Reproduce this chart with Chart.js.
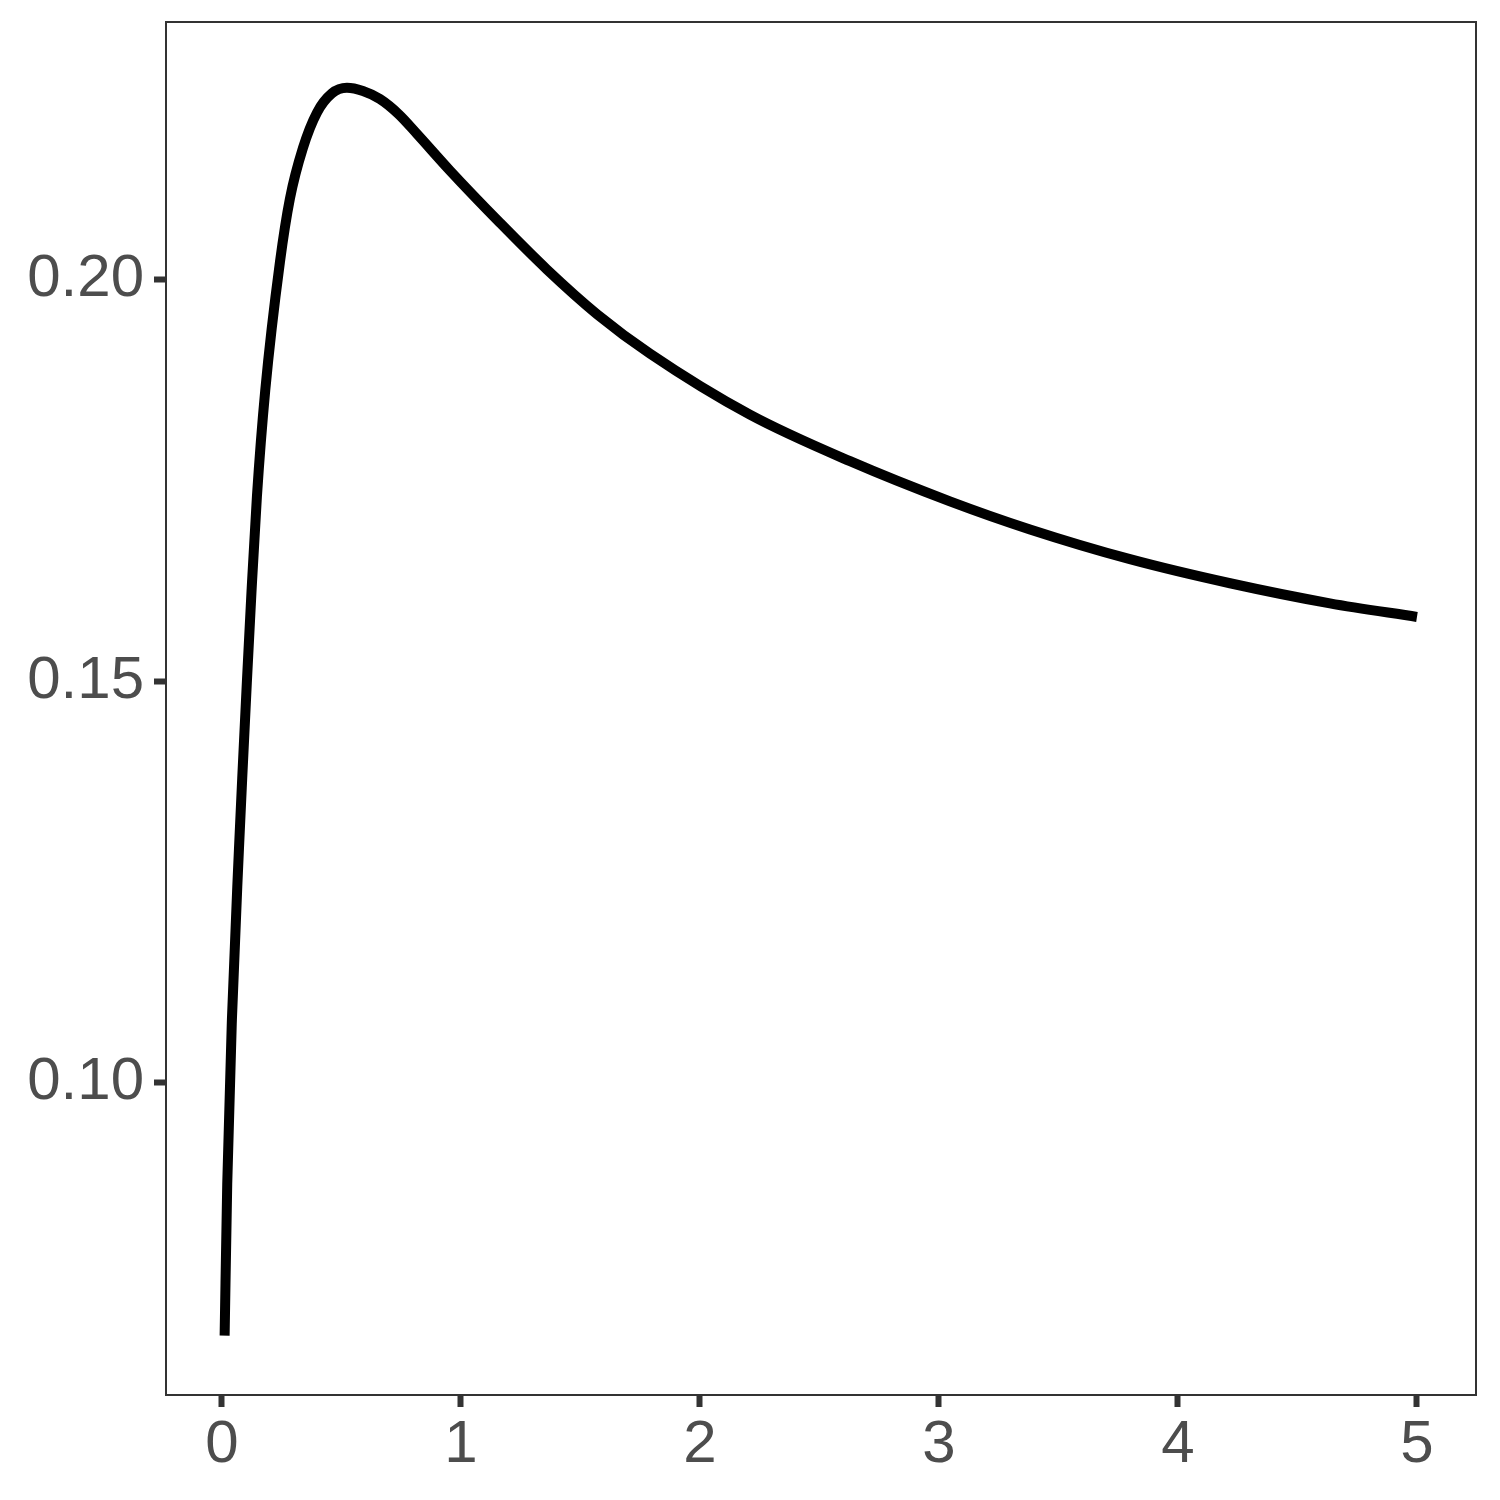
<!DOCTYPE html>
<html>
<head>
<meta charset="utf-8">
<script src="https://cdn.jsdelivr.net/npm/chart.js@4"></script>
<style>
  body { margin: 0; background: #fff; }
</style>
</head>
<body>
<canvas id="chart" width="1500" height="1500"></canvas>
<script>
// curve
const xValues = [0.0113, 0.0222, 0.0418, 0.0711, 0.0849, 0.1042, 0.1238, 0.1464, 0.1812, 0.2427, 0.2845,
  0.3389, 0.3975, 0.46, 0.523, 0.59, 0.661, 0.74, 0.815, 0.954, 1.163, 1.359, 1.57, 1.791, 2.209, 2.628,
  3.046, 3.381, 3.799, 4.218, 4.636, 5.0];
const yValues = [0.0685, 0.0874, 0.1079, 0.1290, 0.1379, 0.1498, 0.1612, 0.1730, 0.1862, 0.2022, 0.2101,
  0.2164, 0.2208, 0.2232, 0.2239, 0.2235, 0.2225, 0.2206, 0.2182, 0.2136, 0.2071, 0.2013, 0.1957, 0.1908, 0.1832,
  0.1774, 0.1724, 0.1689, 0.1652, 0.1622, 0.1597, 0.1580];
const xTicks = [0, 1, 2, 3, 4, 5];
const yTicks = [0.10, 0.15, 0.20];

const points = xValues.map((x, i) => ({ x: x, y: yValues[i] }));

const panelBorder = {
  id: 'panelBorder',
  afterDraw(chart) {
    const { ctx, chartArea } = chart;
    ctx.save();
    ctx.strokeStyle = '#333333';
    ctx.lineWidth = 2;
    ctx.strokeRect(chartArea.left, chartArea.top, chartArea.right - chartArea.left, chartArea.bottom - chartArea.top);
    ctx.restore();
  }
};

const tickFont = { family: '"Liberation Sans", Arial, sans-serif', size: 60 };

const chart = new Chart(document.getElementById('chart'), {
  type: 'line',
  data: {
    datasets: [{
      data: points,
      borderColor: '#000000',
      borderWidth: 10,
      pointRadius: 0,
      cubicInterpolationMode: 'monotone',
      fill: false
    }]
  },
  options: {
    responsive: false,
    animation: false,
    layout: { padding: { top: 22, right: 24, left: 0, bottom: 0 } },
    plugins: { legend: { display: false }, tooltip: { enabled: false } },
    scales: {
      x: {
        type: 'linear',
        min: -0.234,
        max: 5.247,
        afterBuildTicks: (scale) => { scale.ticks = xTicks.map(v => ({ value: v })); },
        afterFit: (scale) => { scale.height = 105; scale.paddingLeft = 0; scale.paddingRight = 0; },
        grid: { drawOnChartArea: false, drawTicks: true, tickLength: 12, tickWidth: 6, tickColor: '#333333' },
        border: { display: false },
        ticks: { font: tickFont, color: '#4D4D4D', padding: 2, maxRotation: 0, callback: (v) => v.toFixed(0) }
      },
      y: {
        type: 'linear',
        min: 0.0611,
        max: 0.2321,
        afterBuildTicks: (scale) => { scale.ticks = yTicks.map(v => ({ value: v })); },
        afterFit: (scale) => { scale.width = 166; scale.paddingTop = 0; scale.paddingBottom = 0; },
        grid: { drawOnChartArea: false, drawTicks: true, tickLength: 12, tickWidth: 6, tickColor: '#333333' },
        border: { display: false },
        ticks: { font: tickFont, color: '#4D4D4D', padding: 10, callback: (v) => v.toFixed(2) }
      }
    }
  },
  plugins: [panelBorder]
});
</script>
</body>
</html>
